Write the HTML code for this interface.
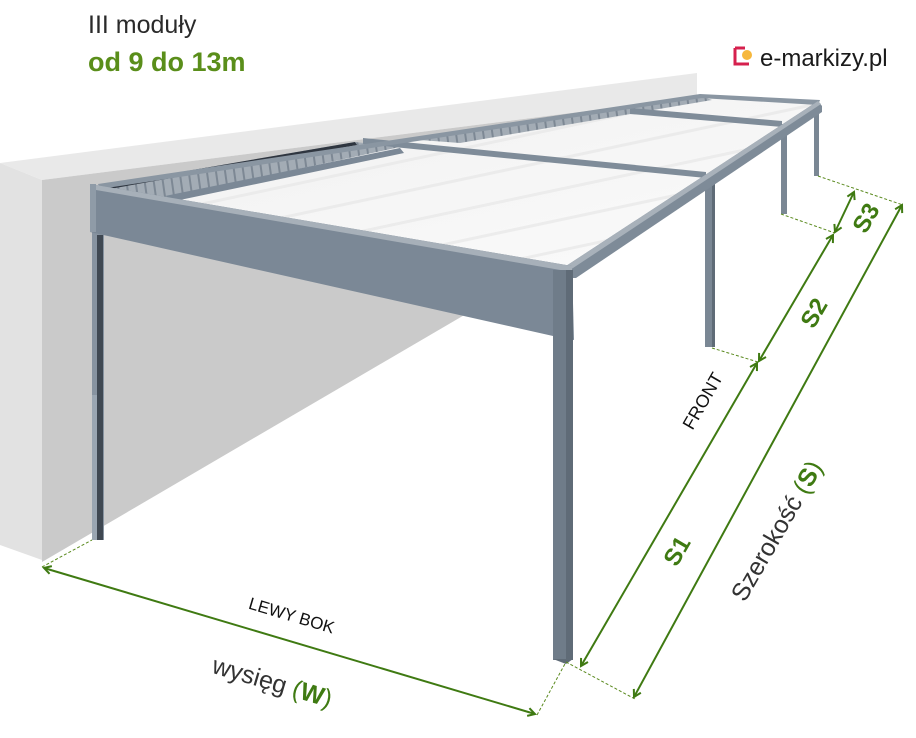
<!DOCTYPE html>
<html><head><meta charset="utf-8"><style>
html,body{margin:0;padding:0;background:#fff;}
svg{display:block;}
text{font-family:"Liberation Sans","DejaVu Sans",sans-serif;}
</style></head><body>
<svg width="916" height="738" viewBox="0 0 916 738" xmlns="http://www.w3.org/2000/svg">
<defs>
<linearGradient id="roof" x1="0" y1="0" x2="1" y2="1">
<stop offset="0" stop-color="#f0f0f0"/><stop offset="1" stop-color="#fbfbfb"/>
</linearGradient>
<pattern id="rs" width="30" height="30" patternUnits="userSpaceOnUse" patternTransform="rotate(-12)">
<rect width="30" height="30" fill="none"/><rect y="0" width="30" height="3" fill="#e4e4e4" opacity="0.6"/>
</pattern>
<pattern id="slat" width="9" height="40" patternUnits="userSpaceOnUse" patternTransform="rotate(-8)">
<rect width="9" height="40" fill="#a3acb5"/><rect width="2" height="40" fill="#7d8894"/>
</pattern>
<marker id="ar" markerWidth="10" markerHeight="10" refX="8" refY="5" orient="auto" markerUnits="userSpaceOnUse">
<path d="M1,1 L8,5 L1,9" fill="none" stroke="#3f7a12" stroke-width="2"/>
</marker>
<marker id="al" markerWidth="10" markerHeight="10" refX="2" refY="5" orient="auto" markerUnits="userSpaceOnUse">
<path d="M9,1 L2,5 L9,9" fill="none" stroke="#3f7a12" stroke-width="2"/>
</marker>
</defs>

<!-- wall -->
<polygon points="0,163 697,73 697,97 42,180" fill="#e9e9e9"/>
<polygon points="0,163 42,180 42,560 0,545" fill="#e2e2e2"/>
<polygon points="42,180 697,97 697,120 490,300 42,562" fill="#cacaca"/>

<!-- roof surface -->
<polygon points="98,186 700,96 818,102 570,268" fill="url(#roof)"/>
<polygon points="98,186 700,96 818,102 570,268" fill="url(#rs)"/>
<!-- louvres -->
<polygon points="100,186 355,142 400,147 165,198" fill="url(#slat)"/>
<polygon points="420,140 700,96 712,100 460,143" fill="url(#slat)"/>
<polygon points="100,186 355,142 357,145 104,190" fill="#2f3640"/>
<!-- dividers -->
<polygon points="165,196 400,148 404,153 175,201" fill="#7b8896"/>
<polygon points="363,138 706,172 706,178 363,144" fill="#7f8c99"/>
<polygon points="630,108 782,121 782,127 630,114" fill="#7f8c99"/>
<!-- back beam -->
<polygon points="98,184 700,94 702,98 100,189" fill="#8a96a2"/>
<polygon points="700,94 820,100 818,105 700,98" fill="#8a96a2"/>

<!-- posts behind -->
<rect x="814" y="103" width="5" height="73" fill="#7a8794"/>
<rect x="781" y="124" width="6" height="90" fill="#7a8794"/>
<rect x="705" y="176" width="10" height="171" fill="#7a8794"/>
<rect x="712" y="176" width="3" height="171" fill="#5f6b77"/>

<!-- front beam -->
<polygon points="566,266 818,101 822,106 822,112 576,278 570,278" fill="#7e8b98"/>
<polygon points="566,266 818,101 821,104 570,270" fill="#a8b1ba"/>

<!-- left back post -->
<rect x="92" y="200" width="12" height="340" fill="#8793a0"/>
<rect x="97" y="235" width="6" height="305" fill="#3f4852"/>
<rect x="92" y="395" width="5" height="145" fill="#9aa6b2"/>

<!-- left beam -->
<polygon points="90,184 572,266 574,340 553,336 90,232" fill="#7b8896"/>
<polygon points="90,184 572,266 572,272 96,190" fill="#a7b0b9"/>
<rect x="90" y="184" width="6" height="48" fill="#8f9ba7"/>
<!-- front corner post -->
<rect x="553" y="270" width="20" height="390" fill="#6f7c89"/>
<rect x="566" y="270" width="7" height="390" fill="#5f6b77"/>
<polygon points="553,659 573,659 566,664" fill="#5f6b77"/>

<!-- dashed extension lines -->
<g stroke="#5a8a1e" stroke-width="1" stroke-dasharray="3,2" fill="none">
<line x1="42" y1="567" x2="92" y2="540"/>
<line x1="537" y1="715" x2="566" y2="662"/>
<line x1="566" y1="662" x2="635" y2="699"/>
<line x1="712" y1="348" x2="758" y2="362"/>
<line x1="781" y1="214" x2="835" y2="233"/>
<line x1="818" y1="176" x2="903" y2="205"/>
</g>

<!-- dimension lines -->
<g stroke="#3f7a12" stroke-width="2" fill="none">
<line x1="44" y1="568" x2="535" y2="714" marker-start="url(#al)" marker-end="url(#ar)"/>
<line x1="581" y1="666" x2="757" y2="363" marker-start="url(#al)" marker-end="url(#ar)"/>
<line x1="759" y1="361" x2="833" y2="235" marker-start="url(#al)" marker-end="url(#ar)"/>
<line x1="835" y1="232" x2="854" y2="192" marker-start="url(#al)" marker-end="url(#ar)"/>
<line x1="634" y1="697" x2="902" y2="205" marker-start="url(#al)" marker-end="url(#ar)"/>
</g>

<!-- labels -->
<text x="88" y="33" font-size="25" fill="#2a2a2a">III moduły</text>
<text x="88" y="71" font-size="27" fill="#5a8e1a" font-weight="bold">od 9 do 13m</text>

<g transform="translate(733,44)">
<path d="M2,4 L2,20 L16,20 M2,4 L12,4" fill="none" stroke="#d6204e" stroke-width="3"/>
<circle cx="14" cy="11" r="5" fill="#f6b73c"/>
</g>
<text x="760" y="66" font-size="24" fill="#1a1a1a">e-markizy.pl</text>

<text transform="translate(290,621) rotate(16.5)" text-anchor="middle" font-size="17" fill="#111">LEWY BOK</text>
<text transform="translate(270,690) rotate(16.5)" text-anchor="middle" font-size="25" fill="#333">wysięg <tspan fill="#3f7a12">(</tspan><tspan fill="#3f7a12" font-weight="bold">W</tspan><tspan fill="#3f7a12">)</tspan></text>

<text transform="translate(708,404) rotate(-60)" text-anchor="middle" font-size="18" fill="#111">FRONT</text>
<text transform="translate(684,555) rotate(-60)" text-anchor="middle" font-size="24" font-weight="bold" fill="#3f7a12">S1</text>
<text transform="translate(821,317) rotate(-60)" text-anchor="middle" font-size="24" font-weight="bold" fill="#3f7a12">S2</text>
<text transform="translate(873,222) rotate(-60)" text-anchor="middle" font-size="24" font-weight="bold" fill="#3f7a12">S3</text>
<text transform="translate(784,535) rotate(-60)" text-anchor="middle" font-size="25" fill="#333">Szerokość <tspan fill="#3f7a12">(</tspan><tspan fill="#3f7a12" font-weight="bold">S</tspan><tspan fill="#3f7a12">)</tspan></text>
</svg>
</body></html>
